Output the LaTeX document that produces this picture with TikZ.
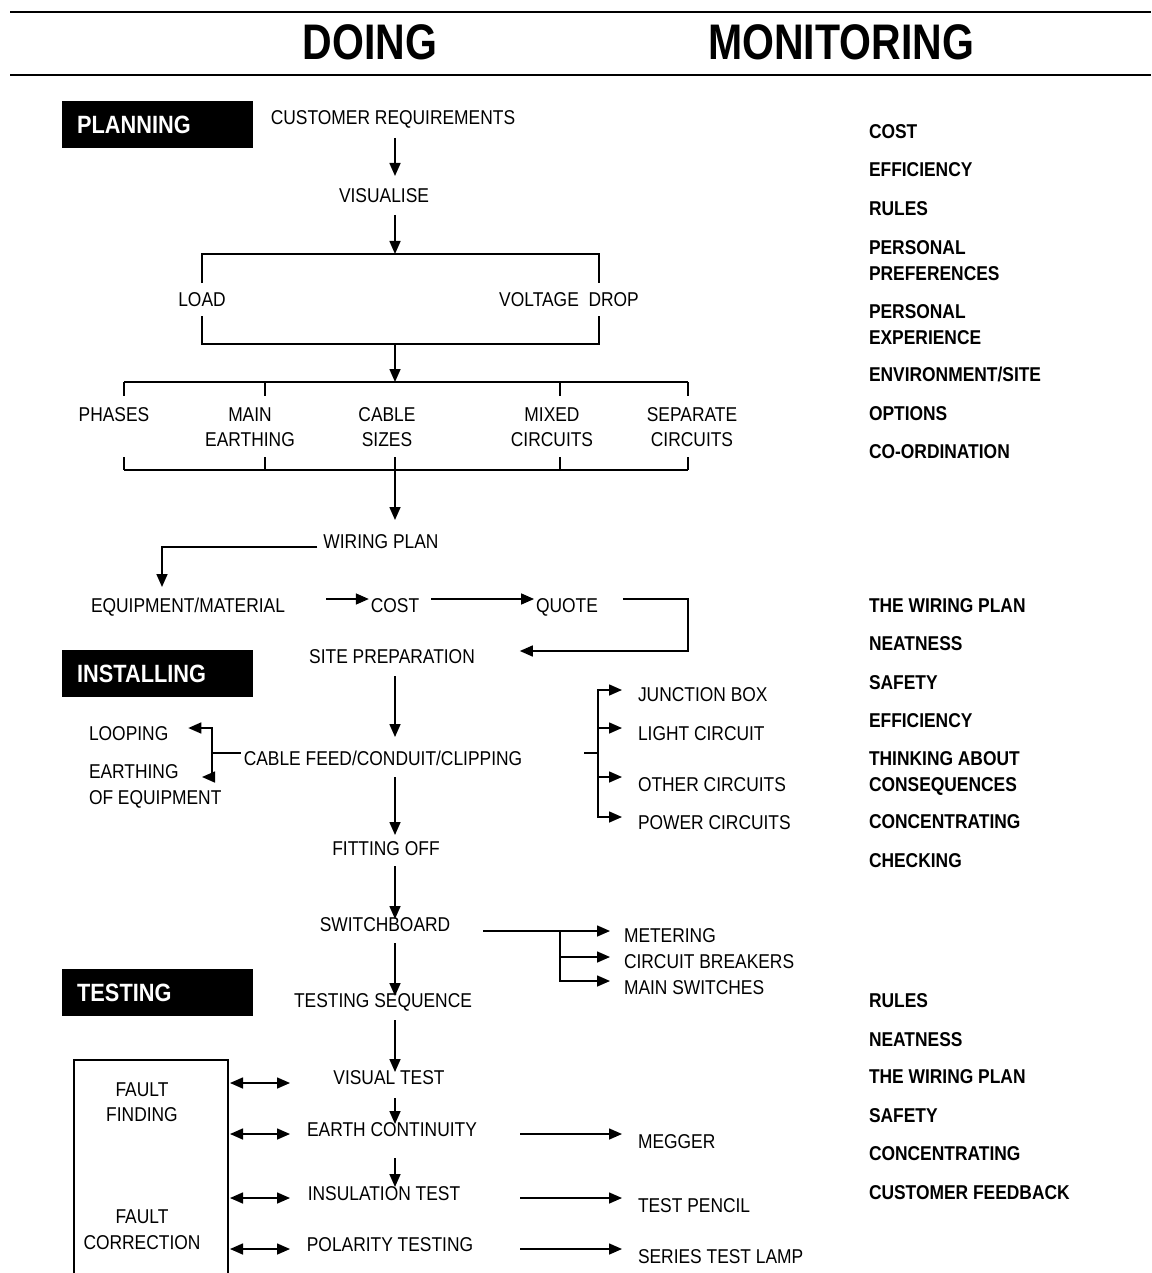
\documentclass[tikz,border=0pt]{standalone}
\usepackage{fontspec}
\setmainfont[FakeStretch=0.87]{Liberation Sans}
\newfontfamily\headfont[FakeStretch=0.82]{Liberation Sans}
\usetikzlibrary{arrows.meta,calc}
\begin{document}
\begin{tikzpicture}[x=1pt,y=-1pt,
  lw/.style={line width=1.6pt},
  arr/.style={lw,-{Triangle[length=13pt,width=11pt]}},
  dbl/.style={lw,{Triangle[length=13pt,width=11pt]}-{Triangle[length=13pt,width=11pt]}},
  txt/.style={inner sep=0pt,outer sep=0pt,anchor=base,align=center,font=\fontsize{20}{25}\selectfont},
  txtl/.style={txt,anchor=base west,align=left},
  mon/.style={inner sep=0pt,outer sep=0pt,anchor=base west,align=left,font=\fontsize{20}{26}\selectfont\bfseries},
  sec/.style={fill=black,text=white,anchor=north west,minimum height=47pt,inner xsep=15pt,inner ysep=0pt,text width=161pt,align=left,font=\fontsize{25}{30}\selectfont\bfseries},
  head/.style={inner sep=0pt,anchor=base,font=\headfont\fontsize{50}{60}\selectfont\bfseries},
]
\useasboundingbox (0,0) rectangle (1151,1273);

% header rules and titles
\draw[line width=2.2pt] (10,12) -- (1151,12);
\draw[line width=2.2pt] (10,75) -- (1151,75);
\node[head] (doing) at (370,60) {DOING};
\node[head] (monit) at (841,60) {MONITORING};

% section boxes
\node[sec] (plan) at (62,101) {PLANNING};
\node[sec] (inst) at (62,650) {INSTALLING};
\node[sec] (test) at (62,969) {TESTING};

% monitoring column (multi-line nodes are placed by their last line)
\node[mon] (m1) at (869,139) {COST};
\node[mon] (m2) at (869,177) {EFFICIENCY};
\node[mon] (m3) at (869,216) {RULES};
\node[mon] (m4) at (869,280) {PERSONAL\\PREFERENCES};
\node[mon] (m5) at (869,344) {PERSONAL\\EXPERIENCE};
\node[mon] (m6) at (869,381) {ENVIRONMENT/SITE};
\node[mon] (m7) at (869,420) {OPTIONS};
\node[mon] (m8) at (869,458) {CO-ORDINATION};
\node[mon] (m9) at (869,612) {THE WIRING PLAN};
\node[mon] (m10) at (869,650) {NEATNESS};
\node[mon] (m11) at (869,689) {SAFETY};
\node[mon] (m12) at (869,727) {EFFICIENCY};
\node[mon] (m13) at (869,791) {THINKING ABOUT\\CONSEQUENCES};
\node[mon] (m14) at (869,828) {CONCENTRATING};
\node[mon] (m15) at (869,867) {CHECKING};
\node[mon] (m16) at (869,1007) {RULES};
\node[mon] (m17) at (869,1046) {NEATNESS};
\node[mon] (m18) at (869,1083) {THE WIRING PLAN};
\node[mon] (m19) at (869,1122) {SAFETY};
\node[mon] (m20) at (869,1160) {CONCENTRATING};
\node[mon] (m21) at (869,1199) {CUSTOMER FEEDBACK};

% doing column text
\coordinate (sp) at (395,0);
\node[txt] (cr) at (393,125) {CUSTOMER REQUIREMENTS};
\node[txt] (vis) at (384,203) {VISUALISE};
\node[txt] (load) at (202,306) {LOAD};
\node[txt] (vd) at (569,306) {VOLTAGE\ \ DROP};
\node[txt] (ph) at (114,421) {PHASES};
\node[txt] (me) at (250,446) {MAIN\\EARTHING};
\node[txt] (cs) at (387,446) {CABLE\\SIZES};
\node[txt] (mc) at (552,446) {MIXED\\CIRCUITS};
\node[txt] (sc) at (692,446) {SEPARATE\\CIRCUITS};
\node[txt] (wp) at (381,548) {WIRING PLAN};
\node[txt] (eq) at (188,612) {EQUIPMENT/MATERIAL};
\node[txt] (cost) at (395,612) {COST};
\node[txt] (quote) at (567,612) {QUOTE};
\node[txt] (site) at (392,663) {SITE PREPARATION};
\node[txt] (cf) at (383,765) {CABLE FEED/CONDUIT/CLIPPING};
\node[txtl] (loop) at (89,740) {LOOPING};
\node[txtl] (earth) at (89,804) {EARTHING\\[1pt]OF EQUIPMENT};
\node[txtl] (jb) at (638,701) {JUNCTION BOX};
\node[txtl] (lc) at (638,740) {LIGHT CIRCUIT};
\node[txtl] (oc) at (638,791) {OTHER CIRCUITS};
\node[txtl] (pc) at (638,829) {POWER CIRCUITS};
\node[txt] (fo) at (386,855) {FITTING OFF};
\node[txt] (sw) at (385,931) {SWITCHBOARD};
\node[txtl] (met) at (624,942) {METERING};
\node[txtl] (cb) at (624,968) {CIRCUIT BREAKERS};
\node[txtl] (ms) at (624,994) {MAIN SWITCHES};
\node[txt] (ts) at (383,1007) {TESTING SEQUENCE};
\node[txt] (vt) at (389,1084) {VISUAL TEST};
\node[txt] (ec) at (392,1136) {EARTH CONTINUITY};
\node[txt] (it) at (384,1200) {INSULATION TEST};
\node[txt] (pt) at (390,1251) {POLARITY TESTING};
\node[txtl] (meg) at (638,1148) {MEGGER};
\node[txtl] (tp) at (638,1212) {TEST PENCIL};
\node[txtl] (stl) at (638,1263) {SERIES TEST LAMP};
\node[txt] (ff) at (142,1121) {FAULT\\FINDING};
\node[txt] (fc) at (142,1249) {FAULT\\[1pt]CORRECTION};

% fault box (open at the bottom)
\draw[lw] (74,1273) -- (74,1060) -- (228,1060) -- (228,1273);

% planning flow
\draw[arr] ($(cr.base -| sp)+(0,13)$) -- ($(vis.base -| sp)+(0,-27)$);
\coordinate (b1l) at (202,254); \coordinate (b1r) at (599,254);
\coordinate (b2l) at (202,344); \coordinate (b2r) at (599,344);
\coordinate (b3l) at (124,382); \coordinate (b3r) at (688,382);
\coordinate (b4l) at (124,470); \coordinate (b4r) at (688,470);
\draw[arr] ($(vis.base -| sp)+(0,12)$) -- (sp |- b1l);
\draw[lw] ($(load.base)+(0,-23)$) -- (load.base |- b1l) -- (b1r) -- ($(b1r |- vd.base)+(0,-23)$);
\draw[lw] ($(load.base)+(0,10)$) -- (b2l) -- (b2r) -- ($(b2r |- vd.base)+(0,10)$);
\draw[arr] (sp |- b2l) -- (sp |- b3l);
\draw[lw] (b3l) -- (b3r);
\foreach \x in {124,265,560,688} \draw[lw] (\x,382) -- (\x,396);
\draw[lw] (b4l) -- (b4r);
\foreach \x in {124,265,395,560,688} \draw[lw] (\x,457) -- (\x,470);
\draw[arr] (sp |- b4l) -- ($(wp.base -| sp)+(0,-28)$);
\draw[arr] ($(wp.base west)+(-6,-1)$) -| ($(eq.base)+(-26,-25)$);
\draw[arr] ($(eq.base east)+(41,-13)$) -- ($(cost.base west)+(-2,-13)$);
\draw[arr] ($(cost.base east)+(12,-13)$) -- ($(quote.base west)+(-2,-13)$);
\coordinate (qc) at (688,0);
\draw[arr] ($(quote.base east)+(25,-13)$) -- ($(qc |- quote.base)+(0,-13)$) -- ($(qc |- site.base)+(0,-12)$) -- ($(site.base east)+(45,-12)$);

% installing flow
\draw[arr] ($(site.base -| sp)+(0,13)$) -- ($(cf.base -| sp)+(0,-28)$);
\coordinate (jl) at (212,753);
\draw[lw] ($(cf.base west)+(-3,-12)$) -- (jl);
\draw[arr] (jl) |- ($(loop.base east)+(20,-12)$);
\draw[arr] (jl) |- ($(earth.base west)+(113,-27)$);
\coordinate (jr) at (598,753);
\draw[lw] ($(cf.base east)+(62,-12)$) -- (jr);
\draw[arr] (jr) |- ($(jb.base west)+(-16,-11)$);
\draw[arr] (jr) |- ($(lc.base west)+(-16,-12)$);
\draw[arr] (jr) |- ($(oc.base west)+(-16,-14)$);
\draw[arr] (jr) |- ($(pc.base west)+(-16,-12)$);
\draw[arr] ($(cf.base -| sp)+(0,12)$) -- ($(fo.base -| sp)+(0,-20)$);
\draw[arr] ($(fo.base -| sp)+(0,11)$) -- ($(sw.base -| sp)+(0,-12)$);
\coordinate (sj) at (560,0);
\draw[arr] ($(sw.base east)+(33,0)$) -- ($(met.base west)+(-14,-11)$);
\draw[arr] (sj |- sw.base) |- ($(cb.base west)+(-14,-11)$);
\draw[arr] (sj |- sw.base) |- ($(ms.base west)+(-14,-13)$);
\draw[arr] ($(sw.base -| sp)+(0,12)$) -- ($(ts.base -| sp)+(0,-11)$);

% testing flow
\draw[arr] ($(ts.base -| sp)+(0,13)$) -- ($(vt.base -| sp)+(0,-12)$);
\draw[arr] ($(vt.base -| sp)+(0,14)$) -- ($(ec.base -| sp)+(0,-12)$);
\draw[arr] ($(ec.base -| sp)+(0,22)$) -- ($(it.base -| sp)+(0,-13)$);
\coordinate (rr) at (520,0);
\draw[arr] ($(rr |- ec.base)+(0,-2)$) -- ($(meg.base west)+(-16,-14)$);
\draw[arr] ($(rr |- it.base)+(0,-2)$) -- ($(tp.base west)+(-16,-14)$);
\draw[arr] ($(rr |- pt.base)+(0,-2)$) -- ($(stl.base west)+(-16,-14)$);
\coordinate (fr) at (230,0); \coordinate (dr) at (290,0);
\draw[dbl] ($(fr |- vt.base)+(0,-1)$) -- ($(dr |- vt.base)+(0,-1)$);
\draw[dbl] ($(fr |- ec.base)+(0,-2)$) -- ($(dr |- ec.base)+(0,-2)$);
\draw[dbl] ($(fr |- it.base)+(0,-2)$) -- ($(dr |- it.base)+(0,-2)$);
\draw[dbl] ($(fr |- pt.base)+(0,-2)$) -- ($(dr |- pt.base)+(0,-2)$);
\end{tikzpicture}
\end{document}
